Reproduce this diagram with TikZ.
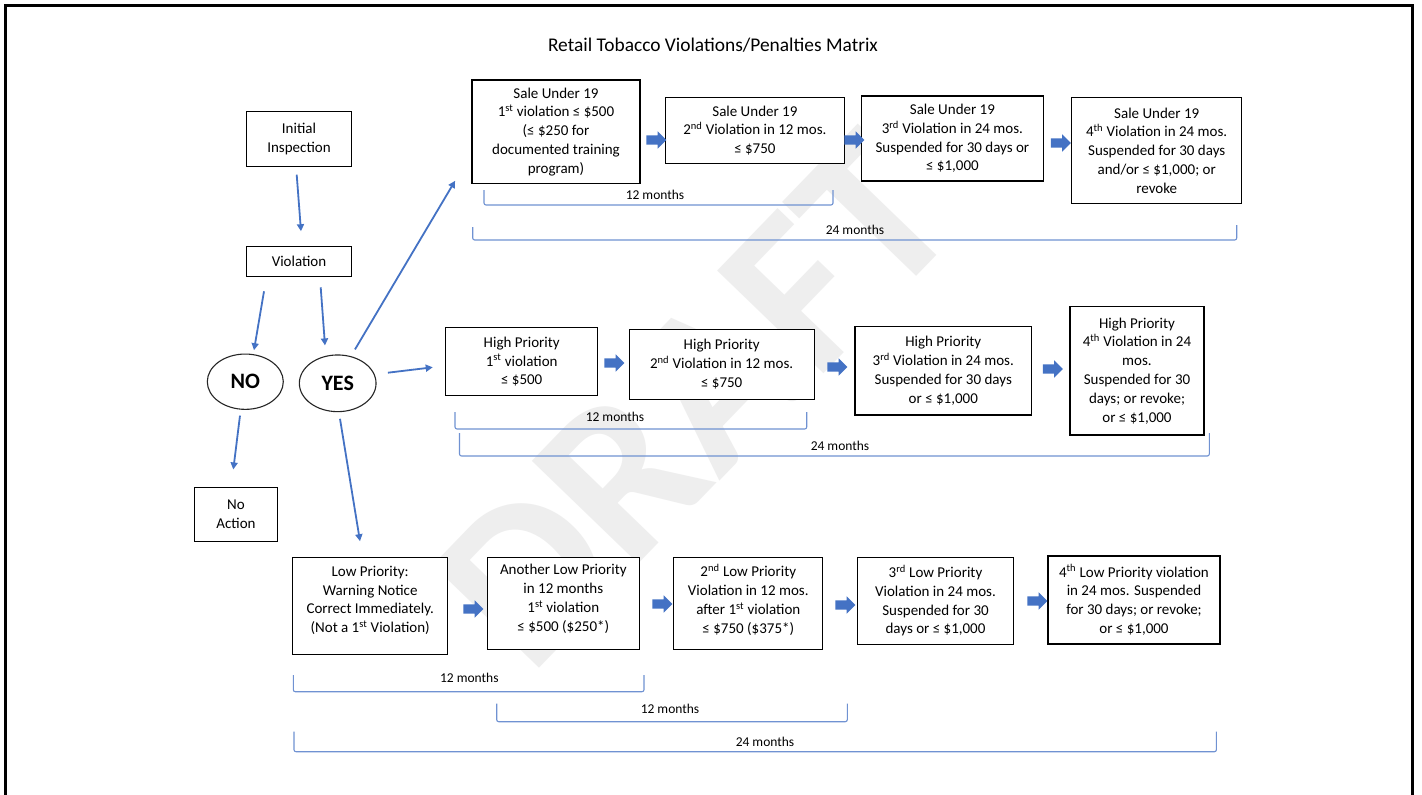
\documentclass[tikz,border=0pt]{standalone}
\usepackage{fontspec}
\setmainfont{Carlito}
\usetikzlibrary{shapes.geometric,shapes.arrows,arrows.meta,calc}
\definecolor{ablue}{RGB}{68,114,196}
\definecolor{bblue}{RGB}{112,146,210}
\definecolor{wm}{RGB}{238,238,238}
\begin{document}
\begin{tikzpicture}[x=1pt,y=-1pt,
  box/.style={draw=black, line width=1.1pt, fill=white, align=center, inner sep=0pt, font=\fontsize{15}{18.8}\selectfont},
  oval/.style={ellipse, draw=black!85, line width=1.1pt, fill=white, inner sep=0pt, font=\bfseries\fontsize{22}{24}\selectfont},
  conn/.style={draw=ablue, line width=1.8pt, -{Triangle[length=7pt,width=7pt]}},
  barrow/.style={single arrow, fill=ablue, draw=none, minimum height=20pt, text height=4.5pt, text depth=4.5pt, text width=0pt, single arrow head extend=4pt, inner sep=0pt, single arrow tip angle=90},
  brk/.style={draw=bblue, line width=1.1pt, rounded corners=2pt},
  lbl/.style={font=\fontsize{13.5}{15}\selectfont, inner sep=0pt}
]
\useasboundingbox (0,0) rectangle (1422,795);
\fill[white] (0,0) rectangle (1422,795);
% watermark
\node[font=\bfseries\fontsize{228}{228}\selectfont, text=wm, rotate=46, inner sep=0pt] (wmark) at (695,400) {DRAFT};
% frame
\draw[line width=3pt] (5.5,810) -- (5.5,5.5) -- (1412.5,5.5) -- (1412.5,810);
% title
\node[font=\fontsize{19.4}{22}\selectfont, inner sep=0pt] (title) at (713,45) {Retail Tobacco Violations/Penalties Matrix};

% left flow
\node[box, minimum width=105.7pt, minimum height=54.3pt] (init) at (299,139) {Initial\\Inspection};
\node[box, minimum width=105.7pt, minimum height=29.3pt] (viol) at (299,261.4) {Violation};
\node[oval, minimum width=76pt, minimum height=55.3pt] (no) at (245.3,381.7) {NO};
\node[oval, minimum width=76.7pt, minimum height=56.7pt] (yes) at (337.7,383.3) {YES};
\node[box, minimum width=83.7pt, minimum height=54.4pt] (noact) at (236,514.5) {No\\Action};

% sale row
\node[box, line width=1.5pt, minimum width=168.3pt, minimum height=103.3pt] (s1) at (556,131.7) {Sale Under 19\\1\textsuperscript{st} violation ≤ \$500\\(≤ \$250 for\\documented training\\program)};
\node[box, minimum width=178.3pt, minimum height=65.6pt] (s2) at (754.9,130.5) {Sale Under 19\\2\textsuperscript{nd} Violation in 12 mos.\\≤ \$750};
\node[box, minimum width=181.3pt, minimum height=85pt] (s3) at (952.4,138.5) {Sale Under 19\\3\textsuperscript{rd} Violation in 24 mos.\\Suspended for 30 days or\\≤ \$1,000};
\node[box, minimum width=170pt, minimum height=105.6pt] (s4) at (1156.7,150.5) {Sale Under 19\\4\textsuperscript{th} Violation in 24 mos.\\Suspended for 30 days\\and/or ≤ \$1,000; or\\revoke};

% high row
\node[box, minimum width=152pt, minimum height=68pt] (h1) at (521.7,361.7) {High Priority\\1\textsuperscript{st} violation\\≤ \$500};
\node[box, minimum width=184.7pt, minimum height=70.3pt] (h2) at (721.7,364.2) {High Priority\\2\textsuperscript{nd} Violation in 12 mos.\\≤ \$750};
\node[box, minimum width=176.7pt, minimum height=88.3pt] (h3) at (943.3,370.8) {High Priority\\3\textsuperscript{rd} Violation in 24 mos.\\Suspended for 30 days\\or ≤ \$1,000};
\node[box, minimum width=134pt, minimum height=128.3pt] (h4) at (1137,370.8) {High Priority\\4\textsuperscript{th} Violation in 24\\mos.\\Suspended for 30\\days; or revoke;\\or ≤ \$1,000};

% low row
\node[box, minimum width=155pt, minimum height=96.7pt] (l1) at (370.2,605.7) {Low Priority:\\Warning Notice\\Correct Immediately.\\(Not a 1\textsuperscript{st} Violation)\\[-6pt]};
\node[box, minimum width=152pt, minimum height=92pt] (l2) at (563.3,603.3) {Another Low Priority\\in 12 months\\1\textsuperscript{st} violation\\≤ \$500 (\$250*)\\[-8pt]};
\node[box, minimum width=149pt, minimum height=92pt] (l3) at (748.3,603.3) {2\textsuperscript{nd} Low Priority\\Violation in 12 mos.\\after 1\textsuperscript{st} violation\\≤ \$750 (\$375*)\\[-10pt]};
\node[box, minimum width=156pt, minimum height=86.7pt] (l4) at (935.5,600.7) {3\textsuperscript{rd} Low Priority\\Violation in 24 mos.\\Suspended for 30\\days or ≤ \$1,000};
\node[box, minimum width=172pt, minimum height=88pt] (l5) at (1134,600) {4\textsuperscript{th} Low Priority violation\\in 24 mos. Suspended\\for 30 days; or revoke;\\or ≤ \$1,000};

% block arrows
\node[barrow] (as1) at (654,140) {};
\node[barrow] (as2) at (852,140) {};
\node[barrow] (as3) at (1058.5,143) {};
\node[barrow] (ah1) at (612,363) {};
\node[barrow] (ah2) at (835,367) {};
\node[barrow] (ah3) at (1050.5,369) {};
\node[barrow] (al1) at (471,609) {};
\node[barrow] (al2) at (660,604) {};
\node[barrow] (al3) at (843,605) {};
\node[barrow] (al4) at (1035,601) {};

% connectors
\draw[conn] ($(init.south)+(-2.3,8)$) -- ($(viol.north)+(2,-15)$);
\draw[conn] ($(viol.south)+(-35,14.7)$) -- ($(no.north)+(8.7,-3.3)$);
\draw[conn] ($(viol.south)+(21.7,10.7)$) -- ($(yes.north)+(-12.7,-9)$);
\draw[conn] ($(yes.north)+(17.3,-5)$) -- ($(s1.south west)+(-16,-3.3)$);
\draw[conn] ($(yes.east)+(11.3,-10.6)$) -- ($(h1.west)+(-12.4,5.6)$);
\draw[conn] ($(no.south)+(-5.3,5.7)$) -- ($(noact.north)+(-2.7,-17.3)$);
\draw[conn] ($(yes.south)+(2.3,6.6)$) -- ($(l1.north)+(-10.2,-15.6)$);

% brackets
\draw[brk] (484,190) |- (833,205) -- (833,190);
\node[lbl] (bs12) at (655,195) {12 months};
\draw[brk] (472.7,227) |- (1236.7,240) -- (1236.7,225);
\node[lbl] (bs24) at (855,230) {24 months};
\draw[brk] (455,412) |- (806.7,429) -- (806.7,412);
\node[lbl] (bh12) at (615,417) {12 months};
\draw[brk] (459.5,433) |- (1209.3,456) -- (1209.3,433);
\node[lbl] (bh24) at (840,446) {24 months};
\draw[brk] (293.3,675) |- (644,691.7) -- (644,675);
\node[lbl] (bl12a) at (469.3,678.3) {12 months};
\draw[brk] (496.7,703.5) |- (847.3,721.7) -- (847.3,703.5);
\node[lbl] (bl12b) at (670,709) {12 months};
\draw[brk] (294,731.7) |- (1216.4,751.7) -- (1216.4,731.7);
\node[lbl] (bl24) at (765,742) {24 months};
\end{tikzpicture}
\end{document}
